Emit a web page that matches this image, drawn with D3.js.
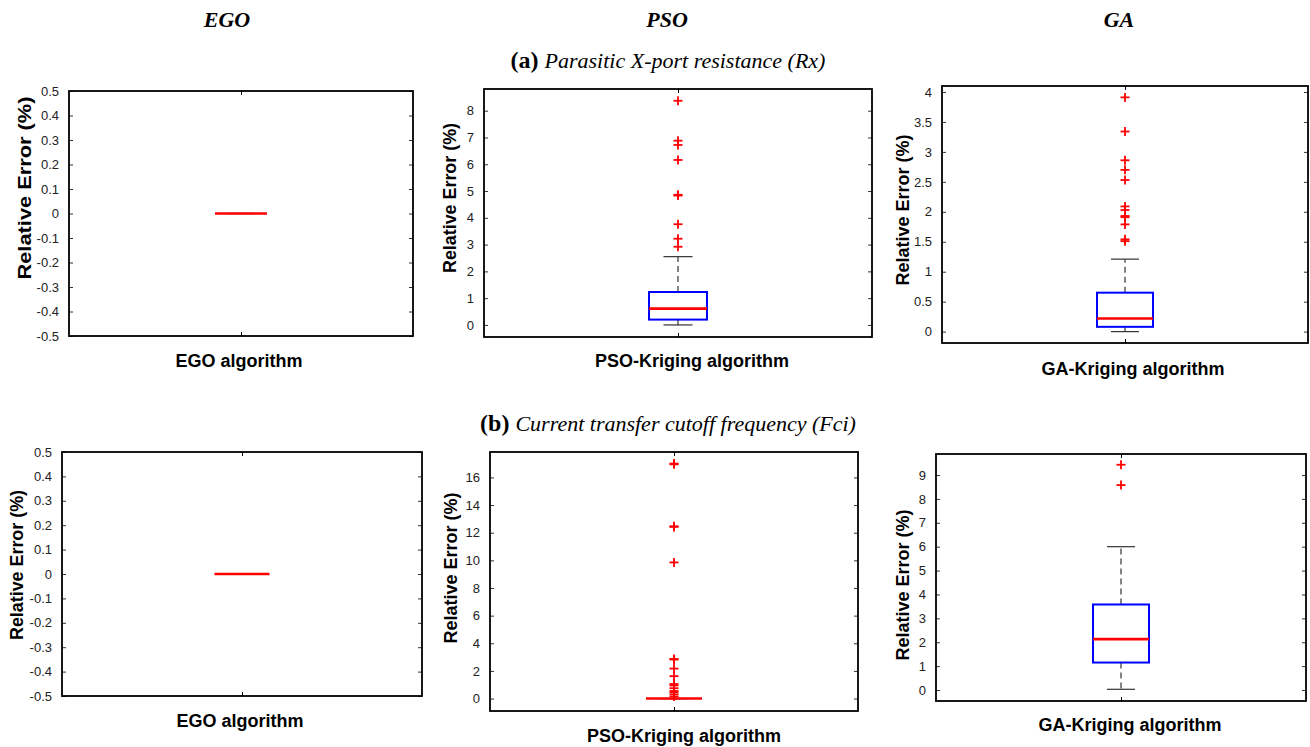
<!DOCTYPE html>
<html lang="en">
    <head>
        <meta charset="UTF-8" />
        <title>Relative error box plots</title>
        <script src="https://d3js.org/d3.v7.min.js"></script>
        <style>
            body { margin: 0; background: #fff; }
            .tick text { font-family: "Liberation Sans", Arial, sans-serif; fill: #222; }
            .ylab, .xlab { font-family: "Liberation Sans", Arial, sans-serif; font-weight: bold; fill: #000; }
            .head { font-family: "Liberation Serif", "Times New Roman", serif; font-weight: bold; font-style: italic; }
        </style>
    </head>
    <body>
        <div class="canvas"></div>
        <script>
            // ---- data ----
            const columnHeads = ["EGO", "PSO", "GA"];
            const rowTags = ["(a)", "(b)"];
            const rowTitles = ["Parasitic X-port resistance (Rx)", "Current transfer cutoff frequency (Fci)"];
            const algorithms = ["EGO algorithm", "PSO-Kriging algorithm", "GA-Kriging algorithm"];
            const yLabel = "Relative Error (%)";

            // [lower whisker, q1, median, q3, upper whisker]
            const rxEgoStats = [0, 0, 0, 0, 0];
            const rxPsoStats = [0, 0.2, 0.61, 1.23, 2.55];
            const rxGaStats = [0, 0.08, 0.22, 0.65, 1.21];
            const fciEgoStats = [0, 0, 0, 0, 0];
            const fciPsoStats = [0, 0, 0, 0, 0];
            const fciGaStats = [0.03, 1.15, 2.13, 3.58, 6.0];

            const rxEgoOutliers = [];
            const rxPsoOutliers = [8.37, 6.88, 6.72, 6.16, 4.86, 4.83, 3.76, 3.22, 2.92];
            const rxGaOutliers = [3.91, 3.34, 2.86, 2.7, 2.53, 2.09, 2.03, 1.93, 1.91, 1.79, 1.54, 1.51];
            const fciEgoOutliers = [];
            const fciPsoOutliers = [17.0, 16.95, 12.47, 12.42, 9.85, 2.87, 2.82, 2.17, 1.62, 1.05, 0.95, 0.75, 0.55, 0.45, 0.3, 0.15];
            const fciGaOutliers = [9.43, 8.58];

            const egoTicks = [-0.5, -0.4, -0.3, -0.2, -0.1, 0, 0.1, 0.2, 0.3, 0.4, 0.5];
            const rxPsoTicks = [0, 1, 2, 3, 4, 5, 6, 7, 8];
            const rxGaTicks = [0, 0.5, 1, 1.5, 2, 2.5, 3, 3.5, 4];
            const fciPsoTicks = [0, 2, 4, 6, 8, 10, 12, 14, 16];
            const fciGaTicks = [0, 1, 2, 3, 4, 5, 6, 7, 8, 9];

            // ---- layout ----
            const width = 1310;
            const height = 747;

            const panels = [
                { stats: rxEgoStats, out: rxEgoOutliers, ticks: egoTicks, domain: [-0.5, 0.5], alg: 0,
                  frame: [69, 91, 413, 336], half: 26, yl: [25, 188, 183], xl: [239, 367] },
                { stats: rxPsoStats, out: rxPsoOutliers, ticks: rxPsoTicks, domain: [-0.45, 8.81], alg: 1,
                  frame: [484, 89, 872, 337], half: 29, yl: [450, 198, 150], xl: [692, 367] },
                { stats: rxGaStats, out: rxGaOutliers, ticks: rxGaTicks, domain: [-0.19, 4.1], alg: 2,
                  frame: [942, 86, 1308, 343], half: 28, yl: [903, 210, 151], xl: [1133, 375] },
                { stats: fciEgoStats, out: fciEgoOutliers, ticks: egoTicks, domain: [-0.5, 0.5], alg: 0,
                  frame: [62, 452, 422, 696], half: 27.5, yl: [17, 565, 150], xl: [240, 727] },
                { stats: fciPsoStats, out: fciPsoOutliers, ticks: fciPsoTicks, domain: [-0.9, 17.84], alg: 1,
                  frame: [490, 452, 858, 711], half: 28, yl: [451, 568, 151], xl: [684, 742] },
                { stats: fciGaStats, out: fciGaOutliers, ticks: fciGaTicks, domain: [-0.46, 9.88], alg: 2,
                  frame: [936, 454, 1306, 701], half: 28, yl: [903, 585, 151], xl: [1130, 731] },
            ];

            const svg = d3
                .select(".canvas")
                .append("svg")
                .attr("width", width)
                .attr("height", height);

            // column heads
            const headX = [227, 667, 1119];
            svg.selectAll(".colhead")
                .data(columnHeads)
                .enter()
                .append("text")
                .attr("class", "head")
                .attr("x", (d, i) => headX[i])
                .attr("y", 27)
                .attr("text-anchor", "middle")
                .style("font-size", "22px")
                .text((d) => d);

            // row titles
            const rowY = [68, 431];
            rowTags.forEach((tag, i) => {
                const t = svg
                    .append("text")
                    .attr("x", 668)
                    .attr("y", rowY[i])
                    .attr("text-anchor", "middle")
                    .style("font-family", '"Liberation Serif", "Times New Roman", serif');
                t.append("tspan").style("font-weight", "bold").style("font-size", "24px").text(tag + " ");
                t.append("tspan").style("font-style", "italic").style("font-size", "22px").text(rowTitles[i]);
            });

            const fmt = (d) => String(+d.toFixed(2));

            panels.forEach((p) => {
                const [x0, y0, x1, y1] = p.frame;
                const g = svg.append("g");

                const y = d3.scaleLinear().domain(p.domain).range([y1, y0]);
                const x = d3
                    .scalePoint()
                    .domain([algorithms[p.alg]])
                    .range([x0, x1])
                    .padding(0.5);
                const cx = x(algorithms[p.alg]);

                // inward ticks on both sides
                const left = d3.axisLeft(y).tickValues(p.ticks).tickFormat(fmt).tickSize(-4).tickPadding(10);
                const right = d3.axisRight(y).tickValues(p.ticks).tickFormat("").tickSize(-4);
                g.append("g").attr("transform", `translate(${x0},0)`).call(left).style("font-size", "13px");
                g.append("g").attr("transform", `translate(${x1},0)`).call(right);
                g.selectAll(".domain").remove();
                g.selectAll(".tick line").attr("stroke", "#333");

                // top/bottom centre ticks
                const bottom = d3.axisBottom(x).tickFormat("").tickSize(-4);
                const top = d3.axisTop(x).tickFormat("").tickSize(-4);
                g.append("g").attr("transform", `translate(0,${y1})`).call(bottom).select(".domain").remove();
                g.append("g").attr("transform", `translate(0,${y0})`).call(top).select(".domain").remove();

                g.append("rect")
                    .attr("x", x0)
                    .attr("y", y0)
                    .attr("width", x1 - x0)
                    .attr("height", y1 - y0)
                    .attr("fill", "none")
                    .attr("stroke", "#000")
                    .attr("stroke-width", 1.8);

                const [lo, q1, med, q3, hi] = p.stats;

                // whiskers
                g.append("line")
                    .attr("x1", cx).attr("x2", cx)
                    .attr("y1", y(q3)).attr("y2", y(hi))
                    .attr("stroke", "#333").attr("stroke-width", 1.2)
                    .attr("stroke-dasharray", "6,4");
                g.append("line")
                    .attr("x1", cx).attr("x2", cx)
                    .attr("y1", y(q1)).attr("y2", y(lo))
                    .attr("stroke", "#333").attr("stroke-width", 1.2)
                    .attr("stroke-dasharray", "6,4");
                g.selectAll(".cap")
                    .data([lo, hi])
                    .enter()
                    .append("line")
                    .attr("x1", cx - p.half / 2).attr("x2", cx + p.half / 2)
                    .attr("y1", (d) => y(d)).attr("y2", (d) => y(d))
                    .attr("stroke", "#333").attr("stroke-width", 1.2);

                // box
                g.append("rect")
                    .attr("x", cx - p.half)
                    .attr("y", y(q3))
                    .attr("width", 2 * p.half)
                    .attr("height", y(q1) - y(q3))
                    .attr("fill", "none")
                    .attr("stroke", "#0000ff")
                    .attr("stroke-width", 2);

                // median
                g.append("line")
                    .attr("x1", cx - p.half).attr("x2", cx + p.half)
                    .attr("y1", y(med)).attr("y2", y(med))
                    .attr("stroke", "#ff0000").attr("stroke-width", 2.6);

                // outliers
                const plus = g.selectAll(".out").data(p.out).enter().append("g")
                    .attr("transform", (d) => `translate(${cx},${y(d)})`);
                plus.append("line").attr("x1", -4.5).attr("x2", 4.5)
                    .attr("stroke", "#ff0000").attr("stroke-width", 1.8);
                plus.append("line").attr("y1", -4.5).attr("y2", 4.5)
                    .attr("stroke", "#ff0000").attr("stroke-width", 1.8);

                // labels
                g.append("text")
                    .attr("class", "ylab")
                    .attr("transform", `translate(${p.yl[0]},${p.yl[1]}) rotate(-90)`)
                    .attr("text-anchor", "middle")
                    .attr("dy", "0.35em")
                    .attr("textLength", p.yl[2])
                    .attr("lengthAdjust", "spacingAndGlyphs")
                    .style("font-size", "18px")
                    .text(yLabel);

                g.append("text")
                    .attr("class", "xlab")
                    .attr("x", p.xl[0])
                    .attr("y", p.xl[1])
                    .attr("text-anchor", "middle")
                    .style("font-size", "18px")
                    .text(algorithms[p.alg]);
            });
        </script>
    </body>
</html>
